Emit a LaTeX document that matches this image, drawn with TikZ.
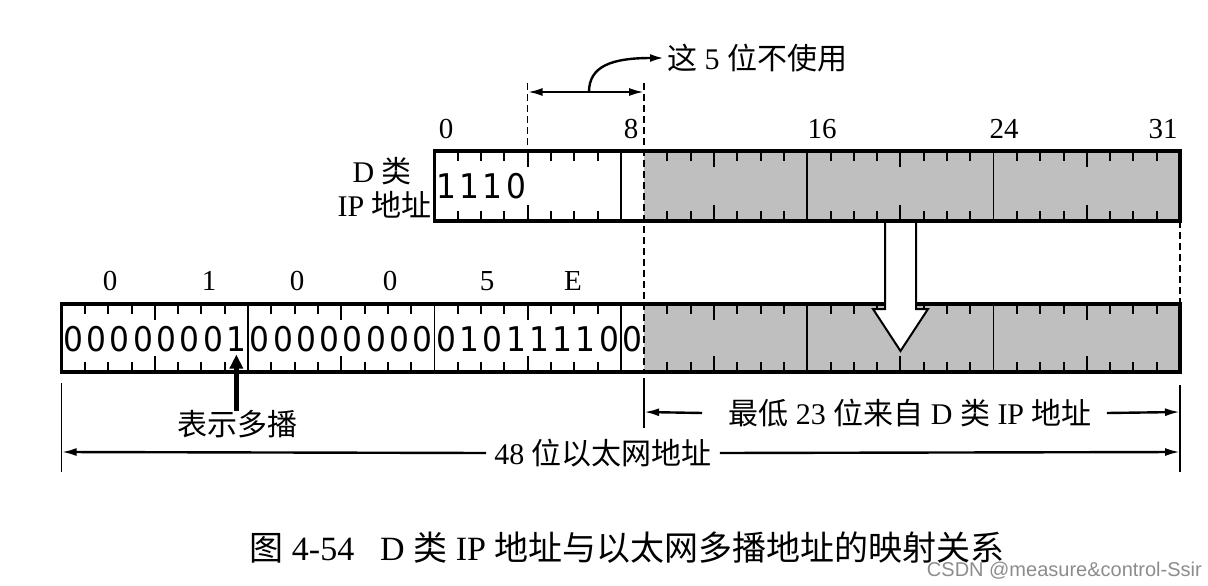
\documentclass[tikz,border=0pt]{standalone}
\usepackage{fontspec}
\setmainfont{Liberation Serif}
\newfontfamily\cjk{Noto Sans CJK SC}
\newfontfamily\digf[FakeStretch=0.92]{DejaVu Sans}
\newfontfamily\wmf{Liberation Sans}
\usetikzlibrary{arrows.meta}
\tikzset{
  boxline/.style={line width=3.5pt},
  sepline/.style={line width=1.6pt},
  tickline/.style={line width=2pt},
  dashline/.style={line width=1.6pt, dash pattern=on 7pt off 4pt},
  extline/.style={line width=1.4pt},
  dimarrow/.style={line width=2.4pt, -{Latex[length=15pt,width=8pt]}},
  shade/.style={fill=black!25},
  dig/.style={inner sep=0pt, font=\fontsize{34}{34}\selectfont\digf},
  numlbl/.style={inner sep=0pt, font=\fontsize{29}{32}\selectfont},
  txt/.style={inner sep=0pt, font=\fontsize{30}{34}\selectfont},
  captxt/.style={inner sep=0pt, font=\fontsize{34}{38}\selectfont},
  wmark/.style={inner sep=0pt, text=black!45, font=\fontsize{20}{22}\selectfont\wmf},
  bigarrow/.style={fill=white, draw=black, line width=2pt, line join=miter}
}
\begin{document}
\begin{tikzpicture}[x=1pt,y=-1pt]
\useasboundingbox (0,0) rectangle (1208,586);
\def\w{23.3}
% ---------- upper box (D class IP) ----------
\def\UL{434.4}
\coordinate (UTL) at (\UL,151);
\coordinate (UBR) at (1180,221);
\coordinate (U9T) at ({\UL+9*\w},151);
\fill[shade] (U9T) rectangle (UBR);
\foreach \i in {1,...,31}{
  \pgfmathsetmacro\xx{\UL+\i*\w}
  \pgfmathtruncatemacro\m{mod(\i,8)}
  \ifnum\m=0
    \draw[sepline] (\xx,151) -- (\xx,221);
  \else\ifnum\i=9\relax\else
    \ifnum\m=4
      \draw[tickline] (\xx,151) -- (\xx,167);
      \draw[tickline] (\xx,221) -- (\xx,205);
    \else
      \draw[tickline] (\xx,151) -- (\xx,161);
      \draw[tickline] (\xx,221) -- (\xx,211);
    \fi
  \fi\fi
}
\foreach \d [count=\i from 0] in {1,1,1,0}{
  \node[dig] (u\i) at ({\UL+(\i+0.5)*\w},186) {\d};
}
% ---------- lower box (Ethernet) ----------
\def\LL{61.6}
\coordinate (LTL) at (\LL,304);
\coordinate (LBR) at (1180,372);
\coordinate (L25T) at ({\LL+25*\w},304);
\fill[shade] (L25T) rectangle (LBR);
\foreach \i in {1,...,47}{
  \pgfmathsetmacro\xx{\LL+\i*\w}
  \pgfmathtruncatemacro\m{mod(\i,8)}
  \ifnum\m=0
    \draw[sepline] (\xx,304) -- (\xx,372);
  \else\ifnum\i=25\relax\else
    \ifnum\m=4
      \draw[tickline] (\xx,304) -- (\xx,320);
      \draw[tickline] (\xx,372) -- (\xx,356);
    \else
      \draw[tickline] (\xx,304) -- (\xx,314);
      \draw[tickline] (\xx,372) -- (\xx,362);
    \fi
  \fi\fi
}
\foreach \d [count=\i from 0] in {0,0,0,0,0,0,0,1,0,0,0,0,0,0,0,0,0,1,0,1,1,1,1,0,0}{
  \node[dig] (l\i) at ({\LL+(\i+0.5)*\w},339) {\d};
}
% ---------- dashed guide lines ----------
\coordinate (D4top) at ({\UL+4*\w},83);
\coordinate (D4bot) at ({\UL+4*\w},146);
\coordinate (D9top) at ({\UL+9*\w},83);
\coordinate (D9bot) at ({\UL+9*\w},372);
\draw[dashline] (D4top) -- (D4bot);
\draw[dashline] (D9top) -- (D9bot);
\draw[dashline] (1180,221) -- (1180,304);
% ---------- box outlines ----------
\draw[boxline] (UTL) rectangle (UBR);
\draw[boxline] (LTL) rectangle (LBR);
% ---------- big white arrow ----------
\fill[white] (885,223) -- (885,309) -- (873,309) -- (900.5,351) -- (928,309) -- (916,309) -- (916,223) -- cycle;
\draw[bigarrow, fill=none] (885,223) -- (885,309) -- (873,309) -- (900.5,351) -- (928,309) -- (916,309) -- (916,223);
% ---------- top labels ----------
\node[numlbl] (b0) at (446,129) {0};
\node[numlbl] (b8) at (631,129) {8};
\node[numlbl] (b16) at (822,129) {16};
\node[numlbl] (b24) at (1004,129) {24};
\node[numlbl] (b31) at (1163,129) {31};
% ---------- "these 5 bits unused" ----------
\coordinate (hA) at ({\UL+4*\w},92);
\coordinate (hB) at ({\UL+9*\w},92);
\draw[line width=2.4pt, {Latex[length=15pt,width=8pt]}-{Latex[length=15pt,width=8pt]}] (hA) -- (hB);
\coordinate (cs) at (589,92);
\node[txt, anchor=west] (unused) at (667,58) {{\cjk 这} 5 {\cjk 位不使用}};
\draw[line width=2.4pt, -{Latex[length=14pt,width=8pt]}] (cs) .. controls (589,66) and (612,58) .. ([xshift=-3pt]unused.west);
% ---------- D class label ----------
\node[txt, anchor=east] (dl1) at (412,171) {D {\cjk 类}};
\node[txt, anchor=east] (dl2) at (432,205) {IP {\cjk 地址}};
% ---------- hex labels ----------
\node[numlbl] (h0) at (110,281) {0};
\node[numlbl] (h1) at (209,281) {1};
\node[numlbl] (h2) at (297,281) {0};
\node[numlbl] (h3) at (390,281) {0};
\node[numlbl] (h4) at (487,281) {5};
\node[numlbl] (h5) at (573,281) {E};
% ---------- multicast bit marker ----------
\node[txt] (mc) at (237,424) {\cjk 表示多播};
\draw[line width=5pt, -{Triangle[length=14pt,width=13pt]}] ([yshift=-1pt]mc.north -| l7) -- ([yshift=-3pt]l7.south);
% ---------- extension lines ----------
\draw[extline] (\LL,383) -- (\LL,472);
\draw[extline] ({\UL+9*\w},378) -- ({\UL+9*\w},428);
\draw[extline] (1180,385) -- (1180,472);
% ---------- lowest 23 bits ----------
\node[txt] (low) at (910,413) {{\cjk 最低} 23 {\cjk 位来自} D {\cjk 类} IP {\cjk 地址}};
\draw[dimarrow] ([xshift=-26pt]low.west) -- ({\UL+9*\w},412);
\draw[dimarrow] ([xshift=15pt]low.east) -- (1180,412);
% ---------- 48 bits ----------
\node[txt] (e48) at (603,453) {48 {\cjk 位以太网地址}};
\draw[dimarrow] ([xshift=-8pt]e48.west) -- (\LL,452);
\draw[dimarrow] ([xshift=8pt]e48.east) -- (1180,452);
% ---------- caption ----------
\node[captxt] (cap) at (627,548) {{\cjk 图} 4-54\hspace{26pt}D {\cjk 类} IP {\cjk 地址与以太网多播地址的映射关系}};
\node[wmark, anchor=east] (wm) at (1202,571) {CSDN @measure\&control-Ssir};
\end{tikzpicture}
\end{document}
